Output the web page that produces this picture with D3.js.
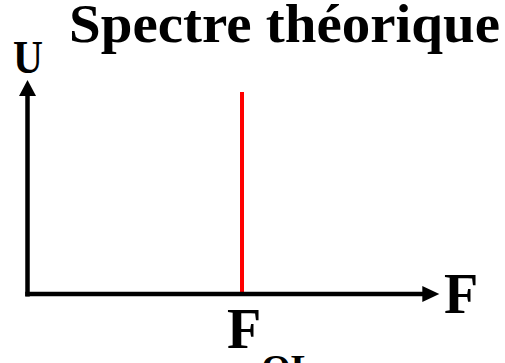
<!DOCTYPE html>
<html><head><meta charset="utf-8">
<script src="https://cdn.jsdelivr.net/npm/d3@7"></script>
<style>html,body{margin:0;padding:0;background:#fff;overflow:hidden}svg{display:block}</style>
</head><body>
<svg id="c" width="505" height="363"></svg>
<script>
// Data
const title = ["Spectre théorique"];
const axisLabels = ["U", "F"];
const lineLabels = ["F", "OL"];      // F with subscript OL
const lineFreqs = [1];               // F_OL (relative frequency)
const lineAmps = [1];                // amplitude of the spectral line
const axisExtent = {x: 1.92, y: 1.06};

const svg = d3.select("#c");
const font = "'Liberation Serif','Times New Roman',serif";

const x = d3.scaleLinear().domain([0, 1]).range([27.5, 242]);
const y = d3.scaleLinear().domain([0, 1]).range([294, 92]);

// spectral line(s)
svg.selectAll("line.spec").data(lineFreqs).join("line")
  .attr("class", "spec")
  .attr("x1", d => x(d)).attr("x2", d => x(d))
  .attr("y1", y(0)).attr("y2", (d, i) => y(lineAmps[i]))
  .attr("stroke", "#ff0000").attr("stroke-width", 4);

// axes
const ax = svg.append("g").attr("stroke", "#000").attr("fill", "#000");
ax.append("line").attr("x1", x(0)).attr("x2", x(0))
  .attr("y1", y(0) + 2.5).attr("y2", y(axisExtent.y) + 10)
  .attr("stroke-width", 4.5);
ax.append("line").attr("x1", x(0) - 2.25).attr("x2", x(axisExtent.x) - 10)
  .attr("y1", y(0)).attr("y2", y(0))
  .attr("stroke-width", 4.5);
// arrowheads
ax.append("path").attr("stroke", "none")
  .attr("d", `M${x(0)},${y(axisExtent.y)} L${x(0) - 8.5},${y(axisExtent.y) + 16} L${x(0) + 8.5},${y(axisExtent.y) + 16} Z`);
ax.append("path").attr("stroke", "none")
  .attr("d", `M${x(axisExtent.x)},${y(0)} L${x(axisExtent.x) - 17},${y(0) - 8} L${x(axisExtent.x) - 17},${y(0) + 8} Z`);

// title
svg.append("text").attr("x", 69).attr("y", 41.5)
  .attr("font-family", font).attr("font-weight", "bold").attr("font-size", 55)
  .attr("textLength", 431).attr("lengthAdjust", "spacingAndGlyphs")
  .text(title[0]);

// axis labels
svg.append("text").attr("x", 28).attr("y", 72.5).attr("text-anchor", "middle")
  .attr("font-family", font).attr("font-weight", "bold").attr("font-size", 46)
  .attr("textLength", 30).attr("lengthAdjust", "spacingAndGlyphs")
  .text(axisLabels[0]);
svg.append("text").attr("x", 444).attr("y", 313)
  .attr("font-family", font).attr("font-weight", "bold").attr("font-size", 56)
  .text(axisLabels[1]);

// line label F_OL
const lt = svg.append("text").attr("x", x(lineFreqs[0]) - 15).attr("y", 348)
  .attr("font-family", font).attr("font-weight", "bold").attr("font-size", 56);
lt.append("tspan").text(lineLabels[0]);
lt.append("tspan").attr("dy", 33).attr("font-size", 38).text(lineLabels[1]);
</script>
</body></html>
